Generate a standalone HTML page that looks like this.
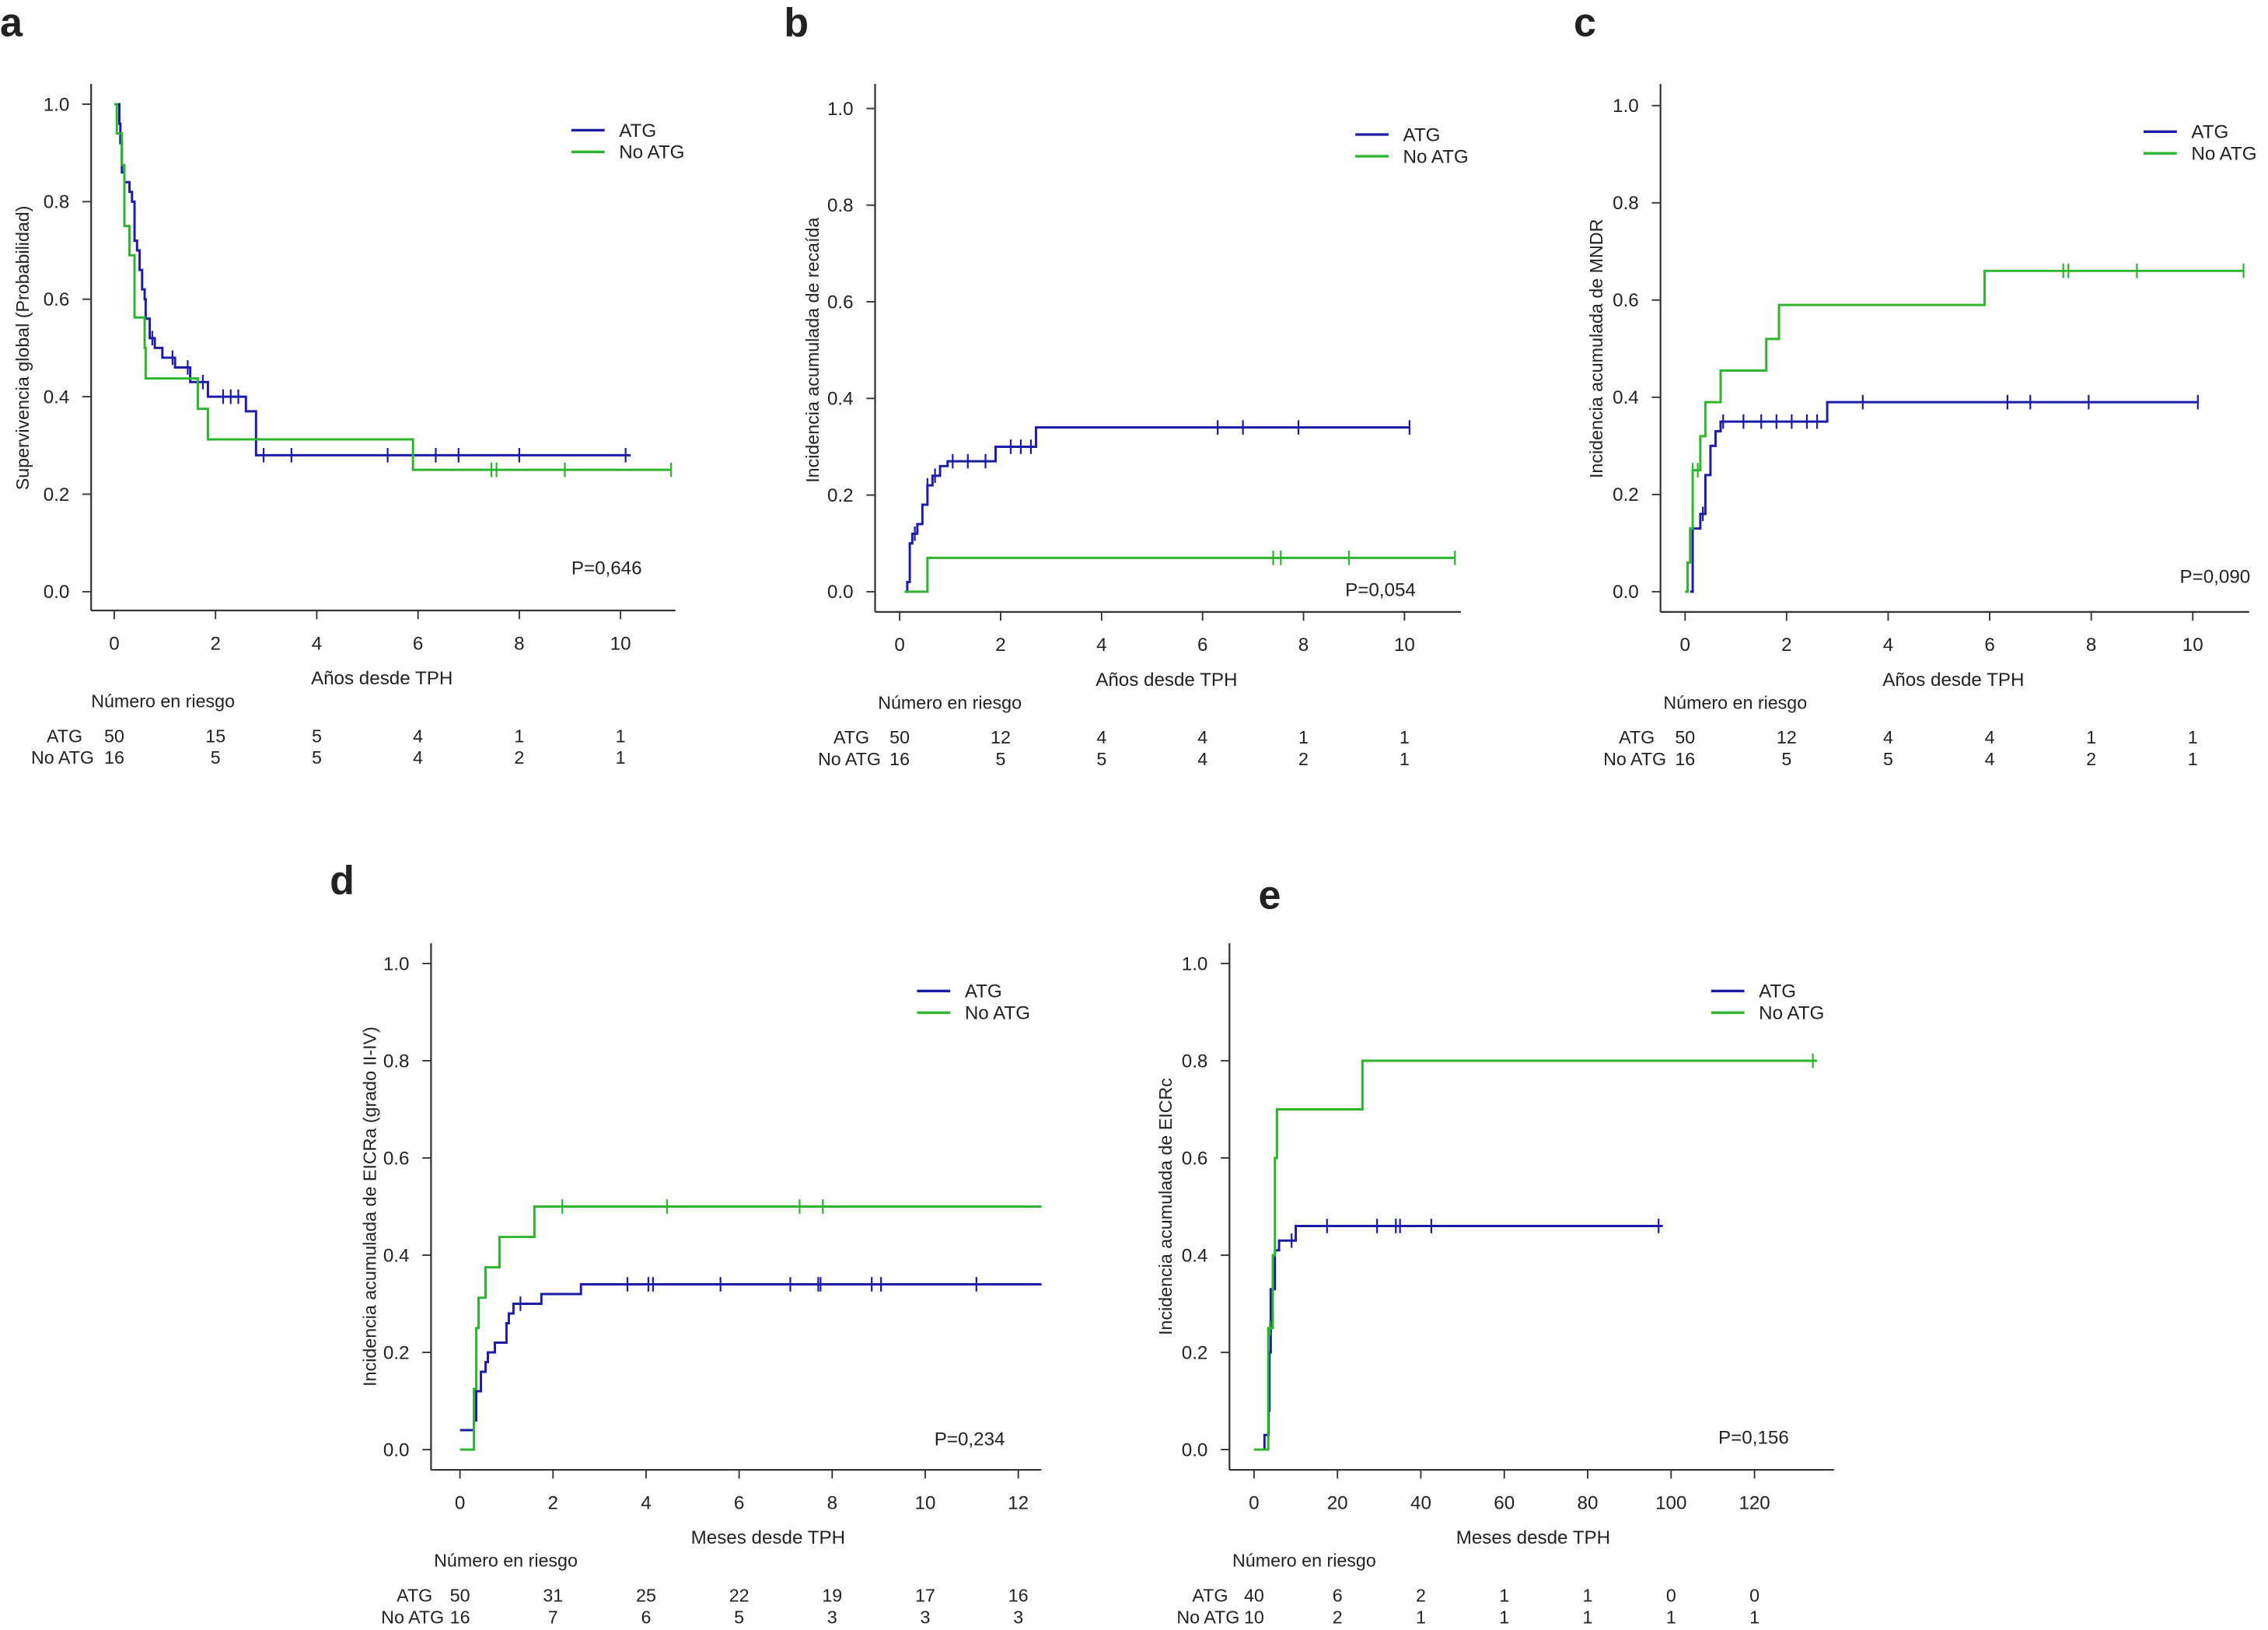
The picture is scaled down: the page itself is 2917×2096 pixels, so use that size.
<!DOCTYPE html>
<html><head><meta charset="utf-8">
<style>
html,body{margin:0;padding:0;background:#fff;}
svg{display:block;}
text{font-family:"Liberation Sans",Arial,sans-serif;fill:#222;}
</style></head>
<body>
<svg id="fig" xmlns="http://www.w3.org/2000/svg" width="2917" height="2096" viewBox="0 0 1568 1126.7"></svg>
<script>
// ---- Data ----
const aAtgT=[0,0.05,0.1,0.12,0.15,0.2,0.3,0.35,0.4,0.45,0.5,0.55,0.6,0.62,0.7,0.8,0.95,1.2,1.5,1.85,2.6,2.8];
const aAtgV=[1,1,0.96,0.92,0.86,0.84,0.82,0.8,0.72,0.7,0.66,0.62,0.6,0.56,0.52,0.5,0.48,0.46,0.43,0.40,0.37,0.28];
const aAtgEnd=10.2;
const aAtgC=[0.75,1.15,1.45,1.75,2.15,2.3,2.45,2.95,3.5,5.4,6.35,6.8,8,10.1];
const aNoT=[0,0.05,0.15,0.2,0.3,0.4,0.6,0.62,1.65,1.85,5.9];
const aNoV=[1,0.94,0.875,0.75,0.69,0.5625,0.5,0.4375,0.375,0.3125,0.25];
const aNoEnd=11;
const aNoC=[7.45,7.55,8.9,11];

const bAtgT=[0.1,0.15,0.2,0.25,0.35,0.45,0.55,0.65,0.8,0.95,1.9,2.7];
const bAtgV=[0,0.02,0.1,0.12,0.14,0.18,0.22,0.24,0.26,0.27,0.3,0.34];
const bAtgEnd=10.1;
const bAtgC=[0.3,0.55,0.7,1.05,1.35,1.7,2.2,2.4,2.6,6.3,6.8,7.9,10.1];
const bNoT=[0.1,0.55];
const bNoV=[0,0.07];
const bNoEnd=11;
const bNoC=[7.4,7.55,8.9,11];

const cAtgT=[0.1,0.15,0.3,0.4,0.5,0.6,0.7,2.8];
const cAtgV=[0,0.13,0.16,0.24,0.3,0.33,0.35,0.39];
const cAtgEnd=10.1;
const cAtgC=[0.35,0.75,1.15,1.5,1.8,2.1,2.4,2.6,3.5,6.35,6.8,7.95,10.1];
const cNoT=[0,0.05,0.1,0.15,0.3,0.4,0.7,1.6,1.85,5.9];
const cNoV=[0,0.06,0.13,0.25,0.32,0.39,0.455,0.52,0.59,0.66];
const cNoEnd=11;
const cNoC=[0.15,0.25,7.45,7.55,8.9,11];

const dAtgT=[0,0.3,0.35,0.45,0.55,0.6,0.75,1.0,1.05,1.15,1.75,2.6];
const dAtgV=[0.04,0.06,0.12,0.16,0.18,0.2,0.22,0.26,0.28,0.3,0.32,0.34];
const dAtgEnd=12.5;
const dAtgC=[1.3,3.6,4.05,4.15,5.6,7.1,7.7,7.75,8.85,9.05,11.1];
const dNoT=[0,0.3,0.35,0.4,0.55,0.85,1.6];
const dNoV=[0,0.125,0.25,0.3125,0.375,0.4375,0.5];
const dNoEnd=12.5;
const dNoC=[2.2,4.45,7.3,7.8];

const eAtgT=[0,2.5,3.5,3.7,4,5,6,10];
const eAtgV=[0,0.03,0.08,0.2,0.33,0.41,0.43,0.46];
const eAtgEnd=98;
const eAtgC=[4.5,9,17.5,29.5,34,35,42.5,97];
const eNoT=[0,3.4,4.5,5,5.5,26];
const eNoV=[0,0.25,0.4,0.6,0.7,0.8];
const eNoEnd=135;
const eNoC=[3.8,134];

const yTicks=[0,0.2,0.4,0.6,0.8,1.0];
const xTicksYears=[0,2,4,6,8,10];
const xTicksD=[0,2,4,6,8,10,12];
const xTicksE=[0,20,40,60,80,100,120];

const riskA_atg=[50,15,5,4,1,1], riskA_no=[16,5,5,4,2,1];
const riskB_atg=[50,12,4,4,1,1], riskB_no=[16,5,5,4,2,1];
const riskC_atg=[50,12,4,4,1,1], riskC_no=[16,5,5,4,2,1];
const riskD_atg=[50,31,25,22,19,17,16], riskD_no=[16,7,6,5,3,3,3];
const riskE_atg=[40,6,2,1,1,0,0], riskE_no=[10,2,1,1,1,1,1];

// ---- Layout / rendering ----
const NS="http://www.w3.org/2000/svg";
const svg=document.getElementById('fig');
const BLUE="#1c1ca8", GREEN="#2db52d";
function el(tag,attrs,parent){const e=document.createElementNS(NS,tag);for(const k in attrs)e.setAttribute(k,attrs[k]);(parent||svg).appendChild(e);return e;}
function txt(s,x,y,attrs,parent){const t=el('text',Object.assign({x:x,y:y,'font-size':13},attrs||{}),parent);t.textContent=s;return t;}

const panels=[
 {id:'a',letter:[0,25],ax:63,x0:79,x1:429,t0:0,t1:10,xmax:467,yTop:58,y1:72,y0:409,xAxisY:422,ticks:xTicksYears,ylab:'Supervivencia global (Probabilidad)',ylabX:20,xlab:'Años desde TPH',
  atg:[aAtgT,aAtgV,aAtgEnd,aAtgC],no:[aNoT,aNoV,aNoEnd,aNoC],risk:[riskA_atg,riskA_no],leg:[395,90],p:['P=0,646',395,397],rowLblX:57},
 {id:'b',letter:[542,25],ax:605,x0:622,x1:971,t0:0,t1:10,xmax:1010,yTop:58,y1:75,y0:409,xAxisY:423,ticks:xTicksYears,ylab:'Incidencia acumulada de recaída',ylabX:566,xlab:'Años desde TPH',
  atg:[bAtgT,bAtgV,bAtgEnd,bAtgC],no:[bNoT,bNoV,bNoEnd,bNoC],risk:[riskB_atg,riskB_no],leg:[937,93],p:['P=0,054',930,412],rowLblX:601},
 {id:'c',letter:[1088,25],ax:1148,x0:1165,x1:1516,t0:0,t1:10,xmax:1555,yTop:58,y1:73,y0:409,xAxisY:423,ticks:xTicksYears,ylab:'Incidencia acumulada de MNDR',ylabX:1108,xlab:'Años desde TPH',
  atg:[cAtgT,cAtgV,cAtgEnd,cAtgC],no:[cNoT,cNoV,cNoEnd,cNoC],risk:[riskC_atg,riskC_no],leg:[1482,91],p:['P=0,090',1507,403],rowLblX:1144},
 {id:'d',letter:[228,618],ax:298,x0:318,x1:704,t0:0,t1:12,xmax:720,yTop:652,y1:666,y0:1002,xAxisY:1016,ticks:xTicksD,ylab:'Incidencia acumulada de EICRa (grado II-IV)',ylabX:260,xlab:'Meses desde TPH',
  atg:[dAtgT,dAtgV,dAtgEnd,dAtgC],no:[dNoT,dNoV,dNoEnd,dNoC],risk:[riskD_atg,riskD_no],leg:[634,685],p:['P=0,234',646,999],rowLblX:299},
 {id:'e',letter:[870,628],ax:850,x0:867,x1:1213,t0:0,t1:120,xmax:1268,yTop:652,y1:666,y0:1002,xAxisY:1016,ticks:xTicksE,ylab:'Incidencia acumulada de EICRc',ylabX:810,xlab:'Meses desde TPH',
  atg:[eAtgT,eAtgV,eAtgEnd,eAtgC],no:[eNoT,eNoV,eNoEnd,eNoC],risk:[riskE_atg,riskE_no],leg:[1183,685],p:['P=0,156',1188,998],rowLblX:849}
];

panels.forEach(P=>{
  const g=el('g',{});
  
  
  const X=t=>P.x0+(t-P.t0)*(P.x1-P.x0)/(P.t1-P.t0);
  const Y=v=>P.y0+(v-0)*(P.y1-P.y0)/1.0;
  const L=txt(P.id,P.letter[0],P.letter[1],{'font-size':28,'font-weight':'bold',fill:'#000'},g);
  
  
  const ya=el('line',{x1:P.ax,y1:P.yTop,x2:P.ax,y2:P.xAxisY,stroke:'#333','stroke-width':1.2},g);
  
  
  yTicks.forEach(v=>{
    el('line',{x1:P.ax-6,y1:Y(v),x2:P.ax,y2:Y(v),stroke:'#333','stroke-width':1},g);
    const t=txt(v.toFixed(1),P.ax-15,Y(v)+4.5,{'text-anchor':'end'},g);
    
    
  });
  const yl=txt(P.ylab,0,0,{'text-anchor':'middle','transform':`translate(${P.ylabX},${(P.y0+P.y1)/2}) rotate(-90)`,'font-size':12.5},g);
  
  
  const xa=el('line',{x1:P.ax,y1:P.xAxisY,x2:P.xmax,y2:P.xAxisY,stroke:'#333','stroke-width':1.2},g);
  
  
  P.ticks.forEach(t=>{
    el('line',{x1:X(t),y1:P.xAxisY,x2:X(t),y2:P.xAxisY+6,stroke:'#333','stroke-width':1},g);
    const tl=txt(String(t),X(t),P.xAxisY+27,{'text-anchor':'middle'},g);
    
    
  });
  const xl=txt(P.xlab,(P.x0+P.x1)/2+ (P.id==='d'||P.id==='e'?20:10),P.xAxisY+51,{'text-anchor':'middle'},g);
  
  
  [[P.atg,BLUE,'atg'],[P.no,GREEN,'no-atg']].forEach(([S,col,nm])=>{
    const [T,V,end,C]=S;
    let d=`M${X(T[0])},${Y(V[0])}`;
    for(let i=1;i<T.length;i++){d+=` H${X(T[i])} V${Y(V[i])}`;}
    d+=` H${X(end)}`;
    const p=el('path',{d:d,fill:'none',stroke:col,'stroke-width':1.6},g);
    
    
    C.forEach(c=>{
      let v=V[0];for(let i=0;i<T.length;i++){if(T[i]<=c)v=V[i];}
      const m=el('line',{x1:X(c),y1:Y(v)-5,x2:X(c),y2:Y(v)+5,stroke:col,'stroke-width':1.2},g);
      
      
    });
  });
  const lg=el('g',{},g);
  
  
  [['ATG',BLUE],['No ATG',GREEN]].forEach(([n,c],i)=>{
    const yy=P.leg[1]+i*15;
    el('line',{x1:P.leg[0],y1:yy,x2:P.leg[0]+23,y2:yy,stroke:c,'stroke-width':1.8},lg);
    const t=txt(n,P.leg[0]+33,yy+4.5,{},lg);
    
    
  });
  const pv=txt(P.p[0],P.p[1],P.p[2],{},g);
  
  
  const rt=el('g',{},g);
  
  
  txt('Número en riesgo',P.ax+(P.id==='a'?0:2),P.xAxisY+67,{'font-size':12.5},rt);
  const rows=[['ATG',P.risk[0],P.xAxisY+91],['No ATG',P.risk[1],P.xAxisY+106]];
  rows.forEach(([n,arr,yy])=>{
    txt(n,P.rowLblX+(n==='ATG'?0:8),yy,{'text-anchor':'end','font-size':12.5},rt);
    arr.forEach((v,i)=>{
      const t=txt(String(v),X(P.ticks[i]),yy,{'text-anchor':'middle','font-size':12.5},rt);
      
      
    });
  });
});
</script>
</body></html>
